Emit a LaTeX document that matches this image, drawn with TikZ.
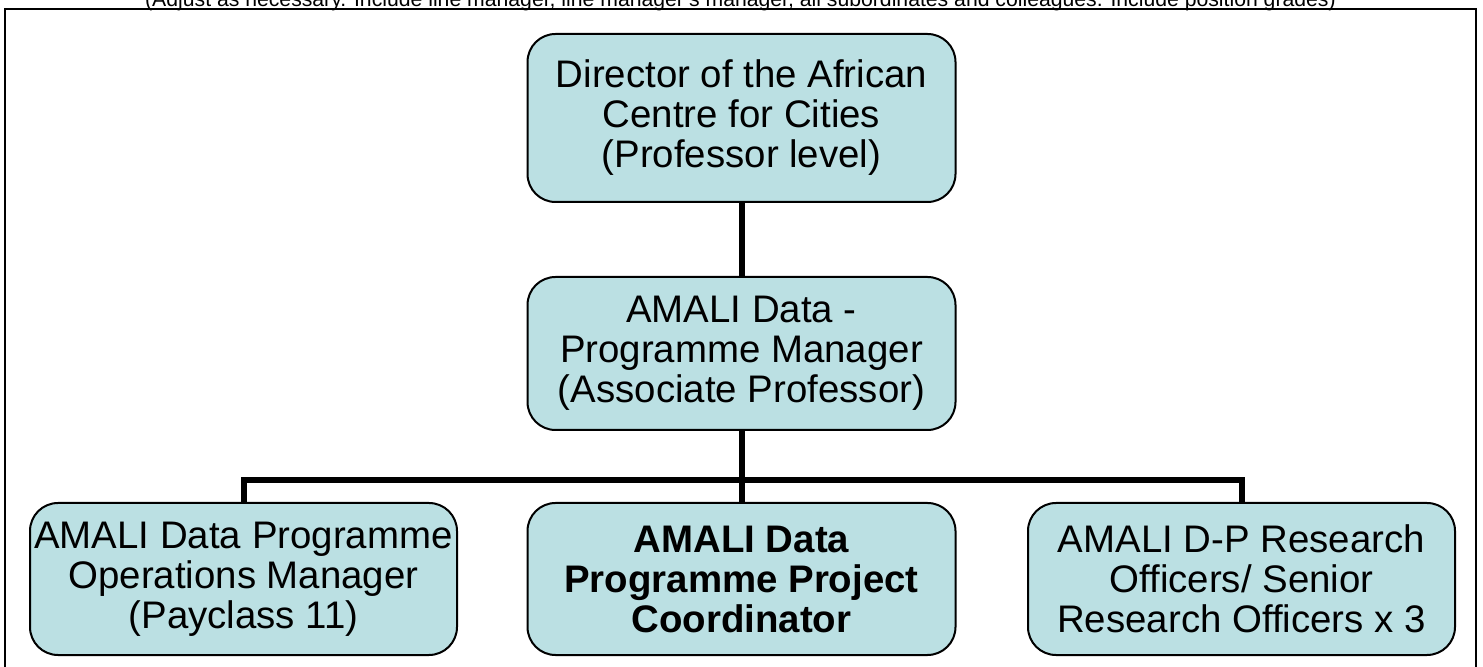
\documentclass[tikz,border=0pt]{standalone}
\usepackage{fontspec}
\setmainfont{Liberation Sans}
\definecolor{boxfill}{RGB}{187,224,227}
\tikzset{
  role/.style={draw=black, line width=1pt, fill=boxfill, rounded corners=14pt,
    align=center, inner sep=0pt, minimum width=214pt, minimum height=76pt,
    font=\fontsize{19.2}{20}\selectfont},
  link/.style={line width=3pt, black},
}
\begin{document}
\begin{tikzpicture}[x=0.5pt, y=-0.5pt]
  % Page area and outer frame
  \clip (0,0) rectangle (1483,667);
  \draw[line width=1pt] (5,9) rectangle (1476,720);

  % Note above the frame
  \node[anchor=base, inner sep=0pt, font=\fontsize{10.6}{12}\selectfont] (note) at (740.5,6.5)
    {(Adjust as necessary. Include line manager, line manager's manager, all subordinates and colleagues. Include position grades)};

  % Reporting line
  \node[role, minimum height=84pt] (director) at (741.5,118)
    {Director of the African\\Centre for Cities\\(Professor level)};
  \node[role, minimum height=76.5pt] (manager) at (741.5,353.5)
    {AMALI Data -\\Programme Manager\\(Associate Professor)};

  % Team under the programme manager
  \node[role, minimum width=213.5pt] (ops) at (243.5,579)
    {AMALI Data Programme\\Operations Manager\\(Payclass 11)};
  \node[role, font=\fontsize{19.2}{20}\selectfont\bfseries] (coord) at (741.5,579)
    {AMALI Data\\Programme Project\\Coordinator};
  \node[role, minimum width=213.5pt] (research) at (1241.5,579)
    {AMALI D-P Research\\Officers/ Senior\\Research Officers x 3};

  % Connectors
  \coordinate (bus) at (741.5,480);
  \draw[link] (director.south) -- (manager.north);
  \draw[link] (manager.south) -- (coord.north);
  \draw[link] (ops.north) -- (ops.north |- bus) -- (research.north |- bus) -- (research.north);
\end{tikzpicture}
\end{document}
